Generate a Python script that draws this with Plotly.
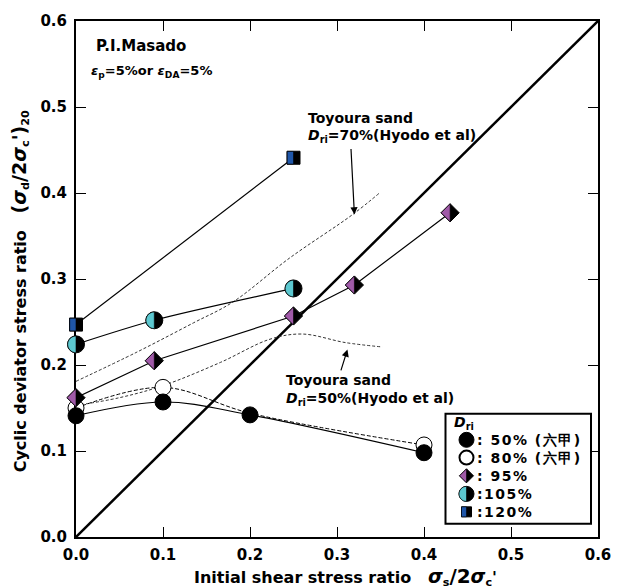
import plotly.graph_objects as go

# ---------------- data ----------------
x_50 = [0.0, 0.1, 0.2, 0.4]
y_50 = [0.141, 0.157, 0.142, 0.098]

x_80_pts = [0.0, 0.1, 0.4]
y_80_pts = [0.150, 0.174, 0.107]
x_80_line = [0.0, 0.1, 0.2, 0.4]
y_80_line = [0.150, 0.174, 0.144, 0.107]

x_95 = [0.0, 0.09, 0.25, 0.32, 0.43]
y_95 = [0.162, 0.205, 0.257, 0.293, 0.377]

x_105 = [0.0, 0.09, 0.25]
y_105 = [0.224, 0.252, 0.289]

x_120 = [0.0, 0.25]
y_120 = [0.247, 0.441]

x_toy70 = [0.0, 0.07, 0.135, 0.18, 0.245, 0.318, 0.35]
y_toy70 = [0.181, 0.215, 0.249, 0.273, 0.324, 0.375, 0.401]

x_toy50 = [0.0, 0.05, 0.1, 0.166, 0.223, 0.26, 0.31, 0.352]
y_toy50 = [0.153, 0.162, 0.176, 0.203, 0.230, 0.236, 0.226, 0.221]

x_diag = [0.0, 0.6]
y_diag = [0.0, 0.6]

tick_vals = [0.0, 0.1, 0.2, 0.3, 0.4, 0.5, 0.6]
tick_text = ["0.0", "0.1", "0.2", "0.3", "0.4", "0.5", "0.6"]

legend_labels = [": 50% (六甲)", ": 80% (六甲)", ": 95%", ":105%", ":120%"]

# ---------------- style ----------------
FONT = "DejaVu Sans"
C_PURPLE = "#a05aa8"
C_CYAN = "#5cc8d0"
C_BLUE = "#1f56a8"
XR = [0.0, 0.6]
YR = [0.0, 0.6]

W, H = 624, 588
ML, MR, MT, MB = 76, 26, 14, 51
PW = W - ML - MR
PH = H - MT - MB


def px(xp):
    return (xp - ML) / PW


def py(yp):
    return (H - MB - yp) / PH


def dx(x):
    return (x - XR[0]) / (XR[1] - XR[0])


def dy(y):
    return (y - YR[0]) / (YR[1] - YR[0])


fig = go.Figure()

# diagonal line
fig.add_trace(go.Scatter(x=x_diag, y=y_diag, mode="lines",
                         line=dict(color="black", width=2.5), hoverinfo="skip"))

# Toyoura reference curves
for xs, ys in [(x_toy70, y_toy70), (x_toy50, y_toy50)]:
    fig.add_trace(go.Scatter(x=xs, y=ys, mode="lines",
                             line=dict(color="#333333", width=1, dash="3px,2px",
                                       shape="spline", smoothing=1.0),
                             hoverinfo="skip"))

# 80% dashed line
fig.add_trace(go.Scatter(x=x_80_line, y=y_80_line, mode="lines",
                         line=dict(color="black", width=1, dash="4px,2px",
                                   shape="spline", smoothing=1.0)))
# connecting lines
fig.add_trace(go.Scatter(x=x_50, y=y_50, mode="lines",
                         line=dict(color="black", width=1.2, shape="spline", smoothing=1.0)))
fig.add_trace(go.Scatter(x=x_95, y=y_95, mode="lines",
                         line=dict(color="black", width=1.2)))
fig.add_trace(go.Scatter(x=x_105, y=y_105, mode="lines",
                         line=dict(color="black", width=1.2, shape="spline", smoothing=0.8)))
fig.add_trace(go.Scatter(x=x_120, y=y_120, mode="lines",
                         line=dict(color="black", width=1.2)))

# markers
fig.add_trace(go.Scatter(x=x_80_pts, y=y_80_pts, mode="markers", cliponaxis=False,
                         marker=dict(symbol="circle", size=16, color="white",
                                     line=dict(color="black", width=1))))
fig.add_trace(go.Scatter(x=x_50, y=y_50, mode="markers", cliponaxis=False,
                         marker=dict(symbol="circle", size=16, color="black",
                                     line=dict(color="black", width=1))))
fig.add_trace(go.Scatter(x=x_95, y=y_95, mode="markers", cliponaxis=False,
                         marker=dict(symbol="diamond", size=14, color="black",
                                     line=dict(color="black", width=1))))
fig.add_trace(go.Scatter(x=x_105, y=y_105, mode="markers", cliponaxis=False,
                         marker=dict(symbol="circle", size=17, color="black",
                                     line=dict(color="black", width=1))))
fig.add_trace(go.Scatter(x=x_120, y=y_120, mode="markers", cliponaxis=False,
                         marker=dict(symbol="square", size=13, color="black",
                                     line=dict(color="black", width=1))))


def half_circle(r):
    k = 0.5523 * r
    return (f"M 0,{r} C {-k},{r} {-r},{k} {-r},0 "
            f"C {-r},{-k} {-k},{-r} 0,{-r} Z")


def half_diamond(d):
    return f"M 0,{d} L {-d},0 L 0,{-d} Z"


def half_square(h):
    return f"M 0,{h} L {-h},{h} L {-h},{-h} L 0,{-h} Z"


shapes = []


def add_half(xa, ya, path, color):
    shapes.append(dict(type="path", xref="paper", yref="paper",
                       xsizemode="pixel", ysizemode="pixel",
                       xanchor=xa, yanchor=ya, path=path,
                       fillcolor=color, line=dict(color="black", width=0.6),
                       layer="above"))


for xv, yv in zip(x_95, y_95):
    add_half(dx(xv), dy(yv), half_diamond(9.0), C_PURPLE)
for xv, yv in zip(x_105, y_105):
    add_half(dx(xv), dy(yv), half_circle(8.3), C_CYAN)
for xv, yv in zip(x_120, y_120):
    add_half(dx(xv), dy(yv), half_square(6.3), C_BLUE)

# ---------------- legend box (manual) ----------------
shapes.append(dict(type="rect", xref="paper", yref="paper",
                   x0=px(445.5), x1=px(591), y0=py(523.5), y1=py(412),
                   fillcolor="white", line=dict(color="black", width=2), layer="above"))

key_x = px(466.5)
row_y = [438.5, 456.5, 475, 493.3, 511.5]


def key_shape(kind, yrow):
    ya = py(yrow)
    if kind == "c_black":
        shapes.append(dict(type="circle", xref="paper", yref="paper", xsizemode="pixel",
                           ysizemode="pixel", xanchor=key_x, yanchor=ya,
                           x0=-7.5, x1=7.5, y0=-7.5, y1=7.5, fillcolor="black",
                           line=dict(color="black", width=1), layer="above"))
    elif kind == "c_white":
        shapes.append(dict(type="circle", xref="paper", yref="paper", xsizemode="pixel",
                           ysizemode="pixel", xanchor=key_x, yanchor=ya,
                           x0=-7, x1=7, y0=-7, y1=7, fillcolor="white",
                           line=dict(color="black", width=2), layer="above"))
    elif kind == "diamond":
        shapes.append(dict(type="path", xref="paper", yref="paper", xsizemode="pixel",
                           ysizemode="pixel", xanchor=key_x, yanchor=ya,
                           path="M 0,7 L 7,0 L 0,-7 L -7,0 Z", fillcolor="black",
                           line=dict(color="black", width=1), layer="above"))
        add_half(key_x, ya, half_diamond(7), C_PURPLE)
    elif kind == "circle2":
        shapes.append(dict(type="circle", xref="paper", yref="paper", xsizemode="pixel",
                           ysizemode="pixel", xanchor=key_x, yanchor=ya,
                           x0=-7.5, x1=7.5, y0=-7.5, y1=7.5, fillcolor="black",
                           line=dict(color="black", width=1), layer="above"))
        add_half(key_x, ya, half_circle(7.5), C_CYAN)
    elif kind == "square":
        shapes.append(dict(type="rect", xref="paper", yref="paper", xsizemode="pixel",
                           ysizemode="pixel", xanchor=key_x, yanchor=ya,
                           x0=-5, x1=5, y0=-5, y1=5, fillcolor="black",
                           line=dict(color="black", width=1), layer="above"))
        add_half(key_x, ya, half_square(5), C_BLUE)


for kind, yr in zip(["c_black", "c_white", "diamond", "circle2", "square"], row_y):
    key_shape(kind, yr)

annotations = []
bold14 = dict(family=FONT, size=14, color="black", weight="bold")
for lab, yr in zip(legend_labels, row_y):
    annotations.append(dict(xref="paper", yref="paper", x=px(475), y=py(yr),
                            xanchor="left", yanchor="middle", showarrow=False,
                            text="<span style='letter-spacing:1.5px'>" + lab + "</span>",
                            font=bold14))
annotations.append(dict(xref="paper", yref="paper", x=px(452), y=py(421),
                        xanchor="left", yanchor="middle", showarrow=False,
                        text="<i>D</i><sub>ri</sub>", font=bold14))

# ---------------- text labels ----------------
annotations += [
    dict(xref="paper", yref="paper", x=px(94), y=py(39), xanchor="left", yanchor="middle",
         showarrow=False, text="P.I.Masado",
         font=dict(family=FONT, size=15, color="black", weight="bold")),
    dict(xref="paper", yref="paper", x=px(89), y=py(65), xanchor="left", yanchor="middle",
         showarrow=False,
         text="<i>ε</i><sub>p</sub>=5%or <i>ε</i><sub>DA</sub>=5%",
         font=dict(family=FONT, size=13, color="black", weight="bold")),
    dict(xref="paper", yref="paper", x=px(306), y=py(112), xanchor="left", yanchor="middle",
         showarrow=False, text="Toyoura sand", font=bold14),
    dict(xref="paper", yref="paper", x=px(306), y=py(131), xanchor="left", yanchor="middle",
         showarrow=False, text="<i>D</i><sub>ri</sub>=70%(Hyodo et al)", font=bold14),
    dict(xref="paper", yref="paper", x=px(284), y=py(378), xanchor="left", yanchor="middle",
         showarrow=False, text="Toyoura sand", font=bold14),
    dict(xref="paper", yref="paper", x=px(284), y=py(397), xanchor="left", yanchor="middle",
         showarrow=False, text="<i>D</i><sub>ri</sub>=50%(Hyodo et al)", font=bold14),
    # arrows
    dict(xref="x", yref="y", axref="x", ayref="y", x=0.320, y=0.375, ax=0.316, ay=0.453,
         text="", showarrow=True, arrowhead=2, arrowsize=1.2, arrowwidth=1.2,
         arrowcolor="black"),
    dict(xref="x", yref="y", axref="x", ayref="y", x=0.312, y=0.218, ax=0.304, ay=0.192,
         text="", showarrow=True, arrowhead=2, arrowsize=1.2, arrowwidth=1.2,
         arrowcolor="black"),
    # axis titles
    dict(xref="paper", yref="paper", x=px(345), y=py(577), xanchor="center", yanchor="middle",
         showarrow=False,
         text="Initial shear stress ratio&nbsp;&nbsp;&nbsp;"
              "<span style='font-size:19px'><i>σ</i></span><sub>s</sub>"
              "<span style='font-size:20px'>/2</span>"
              "<span style='font-size:19px'><i>σ</i></span><sub>c</sub>'",
         font=dict(family=FONT, size=16, color="black", weight="bold")),
    dict(xref="paper", yref="paper", x=px(20), y=py(288), xanchor="center", yanchor="middle",
         showarrow=False, textangle=-90,
         text="Cyclic deviator stress ratio&nbsp;&nbsp;&nbsp;"
              "<span style='font-size:19px'>(<i>σ</i></span><sub>d</sub>"
              "<span style='font-size:19px'>/2<i>σ</i></span><sub>c</sub>"
              "<span style='font-size:19px'>')</span><sub>20</sub>",
         font=dict(family=FONT, size=16, color="black", weight="bold")),
]

axis_common = dict(
    showgrid=False, zeroline=False, showline=True, linecolor="black", linewidth=2,
    mirror="ticks", ticks="inside", ticklen=10, tickwidth=1.2, tickcolor="black",
    tickvals=tick_vals, ticktext=tick_text,
    tickfont=dict(family=FONT, size=15, color="black", weight="bold"),
)

fig.update_layout(
    width=W, height=H,
    margin=dict(l=ML, r=MR, t=MT, b=MB),
    paper_bgcolor="white", plot_bgcolor="white",
    font=dict(family=FONT, color="black"),
    showlegend=False,
    xaxis=dict(range=XR, ticklabelstandoff=3, **axis_common),
    yaxis=dict(range=YR, ticklabelstandoff=4, **axis_common),
    shapes=shapes,
    annotations=annotations,
)

fig.write_html("out.html",
               config={"displayModeBar": False},
               post_script="document.body.style.margin='0px';document.body.style.padding='0px';")
